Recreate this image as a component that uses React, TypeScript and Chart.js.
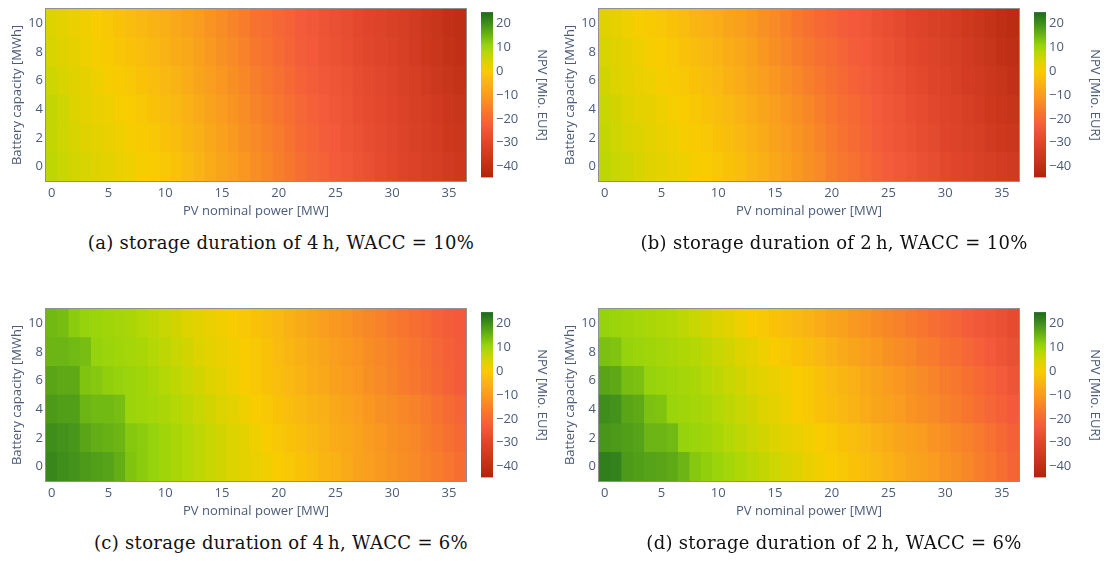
import React, { useEffect, useRef } from 'react';
import { Chart, registerables } from 'chart.js';

Chart.register(...registerables);

// ---------------- data ----------------
const pvPower = [0, 1, 2, 3, 4, 5, 6, 7, 8, 9, 10, 11, 12, 13, 14, 15, 16, 17, 18, 19, 20, 21, 22, 23, 24, 25, 26, 27, 28, 29, 30, 31, 32, 33, 34, 35, 36];
const batteryCapacity = [0, 2, 4, 6, 8, 10];
const xTickValues = [0, 5, 10, 15, 20, 25, 30, 35];
const yTickValues = [0, 2, 4, 6, 8, 10];
const npvTickValues = [-40, -30, -20, -10, 0, 10, 20];

// NPV [Mio. EUR], one row per battery capacity (0, 2, ..., 10 MWh), one value per PV MW
const npvA = [
  [7, 6, 5, 4.5, 3.5, 3, 2, 1.5, 0.5, 0, -1, -2, -3.5, -5, -6.5, -8, -9.5, -11, -12.5, -14, -15.5, -17, -19, -20.5, -21.5, -23, -24, -25.5, -26.5, -28, -29, -30.5, -31.5, -32.5, -33.5, -34.5, -35.5],
  [6.5, 5.5, 4.5, 3.5, 3, 2, 1.5, 0.5, -0.5, -1, -2, -3, -4.5, -6, -7.5, -9, -10.5, -12, -13.5, -15, -16.5, -18, -20, -21, -22.5, -23.5, -25, -26, -27.5, -28.5, -29.5, -31, -32, -33, -34, -35.5, -36.5],
  [6.5, 5.5, 4, 3, 2, 1.5, 0.5, 0, -1, -2, -3, -4, -5.5, -7, -8.5, -10, -11.5, -13, -14.5, -16, -17.5, -19, -20.5, -22, -23, -24.5, -25.5, -27, -28, -29, -30, -31.5, -32.5, -33.5, -35, -36.5, -37.5],
  [5.5, 4.5, 3.5, 2.5, 1.5, 0.5, -0.5, -1, -2, -3, -4, -5, -6.5, -8, -9.5, -11, -12.5, -14, -15.5, -17, -18.5, -20, -21.5, -22.5, -24, -25, -26, -27.5, -28.5, -29.5, -30.5, -32, -33, -34.5, -36, -37.5, -38.5],
  [4.5, 3.5, 2.5, 1.5, 0.5, -0.5, -1.5, -2, -3, -4, -5, -6.5, -7.5, -9, -10.5, -12, -13.5, -15, -17, -18, -19.5, -21, -22.5, -23.5, -25, -26, -27, -28.5, -29.5, -30.5, -31.5, -32.5, -34, -35.5, -37, -38.5, -39.5],
  [4, 3, 2, 1, 0, -1, -2, -3, -4, -5, -6, -7.5, -8.5, -10, -11.5, -13, -14.5, -16, -18, -19, -20.5, -21.5, -23, -24, -25.5, -26.5, -27.5, -29, -30, -31, -32, -33, -34.5, -36, -37.5, -39, -40],
];
const npvB = [
  [7, 6, 5.5, 4.5, 3.5, 3, 2, 1.5, 0.5, 0, -1, -2, -3, -4.5, -6, -7.5, -9, -10.5, -12, -13.5, -15.5, -17, -18.5, -20, -21.5, -23, -24, -25, -26.5, -27.5, -29, -30, -31, -32, -33, -34, -35],
  [6.5, 5.5, 4.5, 4, 3, 2, 1.5, 0.5, -0.5, -1, -2, -3, -4, -5.5, -7, -8.5, -10, -11.5, -13, -14.5, -16.5, -18, -19.5, -21, -22.5, -24, -25, -26, -27.5, -28.5, -30, -31, -32, -33, -34.5, -35.5, -36.5],
  [6, 5, 4, 3, 2.5, 1.5, 0.5, 0, -1, -2, -3, -4, -5, -6.5, -8, -9.5, -11, -12.5, -14, -15.5, -17.5, -19, -20, -21.5, -23, -24.5, -25.5, -27, -28, -29.5, -30.5, -31.5, -33, -34, -35.5, -37, -38],
  [5, 4, 3, 2, 1.5, 0.5, -0.5, -1, -2, -3, -4, -5.5, -6.5, -8, -9.5, -11, -12.5, -14, -15.5, -17, -18.5, -20, -21.5, -22.5, -24, -25.5, -26.5, -28, -29, -30.5, -31.5, -32.5, -34, -35, -36.5, -38, -39],
  [4.5, 3.5, 2.5, 1.5, 0.5, 0, -1, -2, -3, -4, -5, -6.5, -7.5, -9, -11, -12.5, -14, -15.5, -17, -18.5, -19.5, -21, -22.5, -23.5, -25, -26, -27.5, -29, -30, -31, -32, -33, -34.5, -36, -37.5, -39, -40],
  [3.5, 2.5, 1.5, 0.5, -0.5, -1, -2, -3, -4.5, -5.5, -6.5, -8, -9, -10.5, -12, -13.5, -15, -17, -18.5, -20, -21, -22.5, -23.5, -24.5, -26, -27, -28.5, -30, -31, -32, -33, -34, -35.5, -37, -38.5, -40, -41],
];
const npvC = [
  [21, 20, 19.5, 18.5, 18, 17.5, 16, 13, 12, 11, 10, 9, 8, 7, 6, 5, 4, 3, 2, 1, 0, -1, -2, -3, -4.5, -5.5, -7, -8.5, -9.5, -10.5, -11.5, -12.5, -13.5, -15, -16, -17.5, -19],
  [20, 19.5, 19, 17, 16, 15.5, 15, 12.5, 12, 11, 10, 9, 8, 7, 6, 5, 4, 3, 1.5, 0, -1, -2, -3, -4, -5, -6.5, -7.5, -8.5, -10, -11, -12, -13, -14, -15.5, -17, -18.5, -20],
  [18.5, 18, 18, 15, 14.5, 14.5, 14, 10.5, 10, 9.5, 9, 8, 7, 6, 5, 4, 3, 1.5, 0, -1, -2, -3, -4, -5, -6, -7.5, -8.5, -9.5, -11, -12, -13, -14, -15, -16.5, -18, -19.5, -21],
  [17, 16.5, 16.5, 13, 12.5, 11.5, 11, 10.5, 10, 9, 8, 7, 6, 5, 4, 3, 1.5, 0, -1, -2, -3, -4, -5, -6.5, -7.5, -9, -10, -11, -12.5, -13.5, -14.5, -16, -17, -18.5, -20, -21.5, -23],
  [15, 15, 14.5, 14, 11, 10.5, 10, 9.5, 9, 8, 7, 6, 5, 4, 3, 2, 1, 0, -1, -2, -3.5, -4.5, -6, -7, -8, -9.5, -10.5, -11.5, -13, -14, -15, -16.5, -17.5, -19, -20.5, -22, -23],
  [14.5, 14, 12, 11, 10.5, 10, 9.5, 9, 8, 7, 6, 5, 4, 3, 2, 1, 0, -1, -2, -3, -4, -5.5, -7, -8, -9.5, -10.5, -11.5, -13, -14, -15, -16.5, -17.5, -19, -20, -21.5, -22.5, -23.5],
];
const npvD = [
  [22, 21.5, 18.5, 18, 17.5, 17, 16.5, 15, 12.5, 11.5, 10.5, 9.5, 8.5, 7.5, 6.5, 5.5, 4.5, 3.5, 2, 1, 0, -1, -2, -3, -4, -5.5, -6.5, -8, -9, -10, -11.5, -12.5, -14, -15.5, -17, -19, -21],
  [19, 18.5, 18, 17.5, 15, 15, 14.5, 11, 10.5, 10, 9, 8, 7, 6, 5, 4, 3, 2, 1, 0, -1, -2, -3, -4, -5.5, -6.5, -8, -9, -10, -11.5, -12.5, -14, -15, -16.5, -18, -20, -22],
  [20, 19.5, 17, 16.5, 13.5, 13, 10.5, 10, 9.5, 9, 8, 7, 6, 5, 4, 3, 1.5, 0, -1, -2, -3, -4, -5, -6.5, -8, -9, -10, -11.5, -12.5, -13.5, -15, -16, -17.5, -19, -20.5, -22, -23.5],
  [17, 16.5, 14, 13.5, 11, 10.5, 10, 9.5, 9, 8, 7, 6, 5, 4, 3, 2, 1, 0, -1, -2, -3.5, -4.5, -6, -7.5, -8.5, -10, -11, -12, -13.5, -14.5, -16, -17, -18.5, -20, -21.5, -23, -25],
  [13.5, 13, 11, 10.5, 10, 9.5, 9, 8.5, 8, 7, 6, 5, 4, 3, 1.5, 0, -1, -2, -3, -4, -5.5, -7, -8, -9.5, -10.5, -12, -13, -14, -15.5, -16.5, -18, -19, -20.5, -22, -23.5, -25, -26.5],
  [11, 10.5, 10, 9.5, 9, 8.5, 8, 7, 6, 5, 4, 3, 1.5, 0, -1, -2, -3, -4, -5, -6.5, -8, -9, -10.5, -11.5, -13, -14, -15, -16.5, -17.5, -19, -20, -21, -22.5, -24, -25, -26.5, -28],
];

const captions = [
  '(a) storage duration of 4\u2009h, WACC = 10%',
  '(b) storage duration of 2\u2009h, WACC = 10%',
  '(c) storage duration of 4\u2009h, WACC = 6%',
  '(d) storage duration of 2\u2009h, WACC = 6%',
];

const NPV_MIN = -44.5;
const NPV_MAX = 24.7;

// colour scale (value, colour)
const colorStops: [number, string][] = [
  [-44.5, '#b0240c'],
  [-37, '#c9361b'],
  [-30, '#e0452b'],
  [-23, '#f45b3b'],
  [-17, '#f7772e'],
  [-10, '#f99c1f'],
  [-4, '#f9b812'],
  [0, '#f8cc00'],
  [4, '#dcd300'],
  [8, '#b4d805'],
  [11, '#96d30c'],
  [15, '#6cb514'],
  [20, '#3f8e1c'],
  [24.7, '#1e691e'],
];

function hexToRgb(h: string) {
  return [parseInt(h.slice(1, 3), 16), parseInt(h.slice(3, 5), 16), parseInt(h.slice(5, 7), 16)];
}

function npvColor(v: number) {
  if (v <= colorStops[0][0]) return colorStops[0][1];
  for (let i = 1; i < colorStops.length; i++) {
    const [v1, c1] = colorStops[i];
    if (v <= v1) {
      const [v0, c0] = colorStops[i - 1];
      const t = (v - v0) / (v1 - v0);
      const a = hexToRgb(c0);
      const b = hexToRgb(c1);
      const m = a.map((x, k) => Math.round(x + (b[k] - x) * t));
      return `rgb(${m[0]},${m[1]},${m[2]})`;
    }
  }
  return colorStops[colorStops.length - 1][1];
}

const minus = (v: number) => (v < 0 ? '\u2212' + Math.abs(v) : String(v));

const TEXT = '#4b5b78';
const CANVAS_W = 555;
const CANVAS_H = 222;

const colorbarPlugin = {
  id: 'colorbar',
  afterDraw(chart: any) {
    const { ctx, chartArea } = chart;
    const s = chart.scales.cb;
    const yTop = s.getPixelForValue(NPV_MAX);
    const yBot = s.getPixelForValue(NPV_MIN);
    const g = ctx.createLinearGradient(0, yBot, 0, yTop);
    colorStops.forEach(([v, c]) => g.addColorStop((v - NPV_MIN) / (NPV_MAX - NPV_MIN), c));
    ctx.save();
    ctx.fillStyle = g;
    ctx.fillRect(chartArea.right + 15, yTop, 12, yBot - yTop);
    ctx.restore();
  },
};

const framePlugin = {
  id: 'frame',
  afterDatasetsDraw(chart: any) {
    const { ctx, chartArea } = chart;
    ctx.save();
    ctx.strokeStyle = 'rgba(125,125,125,0.85)';
    ctx.lineWidth = 1;
    ctx.strokeRect(chartArea.left - 0.5, chartArea.top - 0.5, chartArea.right - chartArea.left + 1, chartArea.bottom - chartArea.top + 1);
    ctx.restore();
  },
};

const noPad = (s: any) => {
  s.paddingTop = 0;
  s.paddingBottom = 0;
  s.paddingLeft = 0;
  s.paddingRight = 0;
};

function Heatmap({ z, left, top, caption }: { z: number[][]; left: number; top: number; caption: string }) {
  const ref = useRef<HTMLCanvasElement>(null);
  useEffect(() => {
    const datasets = batteryCapacity.map((b, r) => ({
      data: pvPower.map((p) => ({ x: p, y: [b - 1, b + 1] })),
      backgroundColor: z[r].map((v) => npvColor(v)),
      borderWidth: 0,
      grouped: false,
      barPercentage: 1,
      categoryPercentage: 1,
      xAxisID: 'x',
      yAxisID: 'y',
    }));
    const font = { family: "'Open Sans', sans-serif", size: 13 };
    const chart = new Chart(ref.current as HTMLCanvasElement, {
      type: 'bar',
      data: { datasets } as any,
      options: {
        responsive: false,
        animation: false,
        events: [],
        layout: { padding: { top: 9, left: 0, right: 0, bottom: 0 } },
        plugins: { legend: { display: false }, tooltip: { enabled: false } },
        scales: {
          x: {
            type: 'linear',
            min: -0.5,
            max: 36.5,
            offset: false,
            grid: { display: false, offset: false, drawTicks: false },
            border: { display: false },
            afterBuildTicks: (s: any) => { s.ticks = xTickValues.map((v) => ({ value: v })); },
            afterFit: (s: any) => { s.height = 41; noPad(s); },
            ticks: { color: TEXT, font, padding: 4, maxRotation: 0, autoSkip: false, callback: (v: any) => String(v) },
            title: { display: true, text: 'PV nominal power [MW]', color: TEXT, font, padding: { top: 0, bottom: 3 } },
          },
          y: {
            type: 'linear',
            min: -1,
            max: 11,
            beginAtZero: false,
            grid: { display: false, drawTicks: false },
            border: { display: false },
            afterBuildTicks: (s: any) => { s.ticks = yTickValues.map((v) => ({ value: v })); },
            afterFit: (s: any) => { s.width = 46; noPad(s); },
            ticks: { color: TEXT, font, padding: 3, autoSkip: false, callback: (v: any) => String(v) },
            title: { display: true, text: 'Battery capacity [MWh]', color: TEXT, font, padding: { top: 9, bottom: 0 } },
          },
          cb: {
            type: 'linear',
            position: 'right',
            axis: 'y',
            min: -46,
            max: 26,
            grid: { display: false, drawTicks: false },
            border: { display: false },
            afterBuildTicks: (s: any) => { s.ticks = npvTickValues.map((v) => ({ value: v })); },
            afterFit: (s: any) => { s.width = CANVAS_W - 466; noPad(s); },
            ticks: { color: TEXT, font, padding: 30, autoSkip: false, callback: (v: any) => minus(Number(v)) },
            title: { display: true, text: 'NPV [Mio. EUR]', color: TEXT, font, padding: { top: 5, bottom: 0 } },
          },
        },
      } as any,
      plugins: [framePlugin, colorbarPlugin],
    });
    return () => chart.destroy();
  }, []);
  return (
    <>
      <canvas
        ref={ref}
        width={CANVAS_W}
        height={CANVAS_H}
        style={{ position: 'absolute', left, top, width: CANVAS_W, height: CANVAS_H }}
      />
      <div
        style={{
          position: 'absolute',
          left: left + 281 - 260,
          top: top + 232,
          width: 520,
          textAlign: 'center',
          fontFamily: "'DejaVu Serif', serif",
          fontSize: 18,
          letterSpacing: '0.3px',
          lineHeight: '22px',
          color: '#111',
          whiteSpace: 'nowrap',
        }}
      >
        {caption}
      </div>
    </>
  );
}

export default function App() {
  return (
    <div style={{ position: 'absolute', left: 0, top: 0, width: 1108, height: 561, background: '#fff', overflow: 'hidden' }}>
      <Heatmap z={npvA} left={0} top={0} caption={captions[0]} />
      <Heatmap z={npvB} left={553} top={0} caption={captions[1]} />
      <Heatmap z={npvC} left={0} top={300} caption={captions[2]} />
      <Heatmap z={npvD} left={553} top={300} caption={captions[3]} />
    </div>
  );
}
